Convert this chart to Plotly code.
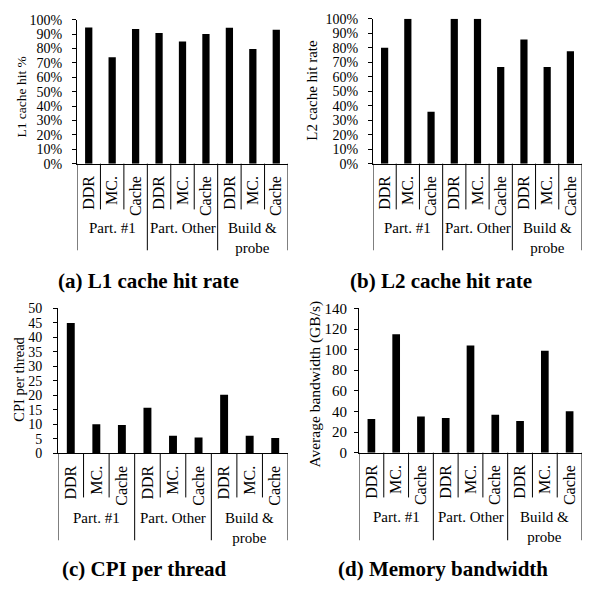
import plotly.graph_objects as go

W, H = 589, 594

# ---- data ----
configs = ["DDR", "MC.", "Cache"]
groups = ["Part. #1", "Part. Other", "Build &<br>probe"]
tick_labels = [c for g in groups for c in configs]

l1_hit = [94.6, 73.9, 93.5, 90.8, 84.9, 90.1, 94.4, 79.7, 93.0]
l2_hit = [80.0, 100.0, 35.8, 100.0, 100.0, 66.7, 85.7, 66.7, 77.6]
cpi = [45.0, 10.0, 9.8, 15.7, 6.1, 5.5, 20.2, 6.1, 5.3]
bandwidth = [32.7, 115.0, 35.0, 33.6, 104.0, 36.8, 30.8, 99.0, 40.2]

# ---- panel layout (pixel geometry) ----
panels = [
    dict(values=l1_hit, ytitle="L1 cache hit %", caption="(a) L1 cache hit rate",
         yrange=[0, 100], dtick=10, suffix="%", box=(77, 288, 12, 160),
         tickfont=14, titlefont=13.5, ytitle_pos=(22, 92), sep=(207, 249),
         cap=(148, 281), standoff=7),
    dict(values=l2_hit, ytitle="L2 cache hit rate", caption="(b) L2 cache hit rate",
         yrange=[0, 100], dtick=10, suffix="%", box=(373, 582, 11, 160),
         tickfont=14, titlefont=15, ytitle_pos=(312, 85), sep=(207, 249),
         cap=(441, 281), standoff=7),
    dict(values=cpi, ytitle="CPI per thread", caption="(c) CPI per thread",
         yrange=[0, 50], dtick=5, suffix="", box=(58, 288, 308.7, 457.7),
         tickfont=14, titlefont=14.5, ytitle_pos=(19, 382), sep=(503, 547),
         cap=(144, 577), standoff=8),
    dict(values=bandwidth, ytitle="Average bandwidth (GB/s)", caption="(d) Memory bandwidth",
         yrange=[0, 140], dtick=20, suffix="", box=(359, 582, 308.7, 457),
         tickfont=15, titlefont=15.5, ytitle_pos=(315, 387), sep=(503, 547),
         cap=(443, 577), standoff=4),
]

SERIF = "Liberation Serif, Times New Roman, serif"


def px(xp):
    return xp / W


def py(yp):
    return 1 - yp / H


fig = go.Figure()
layout = dict(width=W, height=H, autosize=False, margin=dict(l=0, r=0, t=0, b=0),
              paper_bgcolor="white", plot_bgcolor="white", showlegend=False,
              font=dict(family=SERIF, color="black"))
shapes = []
annotations = []

for i, p in enumerate(panels):
    n = i + 1
    sfx = "" if n == 1 else str(n)
    xa, ya = "xaxis" + sfx, "yaxis" + sfx
    xr, yr = "x" + sfx, "y" + sfx
    x0, x1, ytop, ybot = p["box"]
    idx = list(range(len(tick_labels)))

    fig.add_trace(go.Bar(x=idx, y=p["values"], width=0.31, marker=dict(color="black", line=dict(width=0)),
                         xaxis=xr, yaxis=yr, hoverinfo="skip"))

    layout[xa] = dict(domain=[px(x0), px(x1)], anchor=yr, range=[-0.5, len(idx) - 0.5],
                      tickmode="array", tickvals=idx, ticktext=tick_labels, tickangle=-90,
                      tickfont=dict(size=16, family=SERIF, color="black"),
                      showline=True, linecolor="black", linewidth=1, ticks="",
                      showgrid=False, zeroline=False, ticklabelstandoff=5, fixedrange=True)
    layout[ya] = dict(domain=[py(ybot), py(ytop)], anchor=xr, range=p["yrange"],
                      dtick=p["dtick"], ticksuffix=p["suffix"],
                      tickfont=dict(size=p["tickfont"], family=SERIF, color="black"),
                      showline=True, linecolor="black", linewidth=1, ticks="outside",
                      ticklen=4, tickcolor="black", tickwidth=1,
                      showgrid=False, zeroline=False, ticklabelstandoff=p["standoff"],
                      fixedrange=True)

    # category / group separators
    for k in range(len(idx) + 1):
        long = (k % len(configs) == 0)
        shapes.append(dict(type="line", xref=xr, yref="paper", x0=k - 0.5, x1=k - 0.5,
                           y0=py(ybot), y1=py(p["sep"][1] if long else p["sep"][0]),
                           line=dict(color="black", width=1)))
    # group labels
    for g, name in enumerate(groups):
        annotations.append(dict(x=g * len(configs) + 1, xref=xr, y=py(ybot + 56), yref="paper",
                                yanchor="top", xanchor="center", text=name, showarrow=False,
                                font=dict(size=15, family=SERIF, color="black")))
    # y-axis title
    annotations.append(dict(x=px(p["ytitle_pos"][0]), y=py(p["ytitle_pos"][1]), xref="paper",
                            yref="paper", text=p["ytitle"], textangle=-90, showarrow=False,
                            xanchor="center", yanchor="middle",
                            font=dict(size=p["titlefont"], family=SERIF, color="black")))
    # caption
    annotations.append(dict(x=px(p["cap"][0]), y=py(p["cap"][1]), xref="paper", yref="paper",
                            text="<b>" + p["caption"] + "</b>", showarrow=False,
                            xanchor="center", yanchor="middle",
                            font=dict(size=21, family=SERIF, color="black")))

layout["shapes"] = shapes
layout["annotations"] = annotations
fig.update_layout(**layout)
fig.write_html("out.html", config={"displayModeBar": False},
               post_script="document.body.style.margin='0';document.body.style.overflow='hidden';")
